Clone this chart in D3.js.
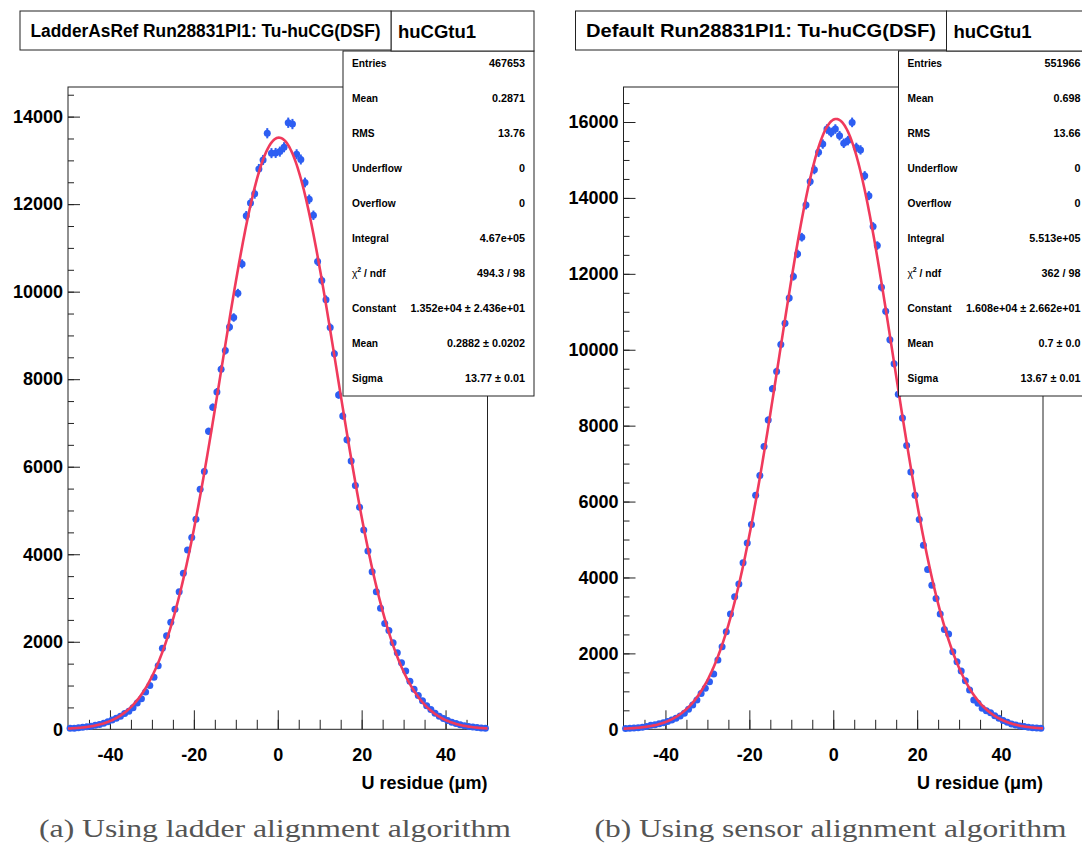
<!DOCTYPE html>
<html>
<head>
<meta charset="utf-8">
<script src="https://cdn.jsdelivr.net/npm/d3@7"></script>
<style>
  body { margin: 0; background: #fff; }
  svg { display: block; }
  .sans { font-family: "Liberation Sans", Arial, Helvetica, sans-serif; font-weight: bold; }
</style>
</head>
<body>
<svg id="chart" width="1082" height="855"></svg>
<script>
// Residual histograms, 1 µm bins between -50 and 50 µm (bin centres)
const binCenters = d3.range(-49.5, 50, 1);

// Counts per bin, ladder alignment (LadderAsRef)
const ladderCounts = [
  22, 26, 35, 44, 58, 72, 90, 112, 138, 170,
  212, 255, 300, 360, 410, 490, 600, 700, 850, 1000,
  1190, 1450, 1850, 2140, 2445, 2745, 3145, 3565, 4095, 4380,
  4800, 5485, 5890, 6810, 7360, 7710, 8230, 8655, 9190, 9410,
  9965, 10635, 11735, 12025, 12235, 12805, 13010, 13620, 13165, 13170,
  13200, 13300, 13860, 13830, 13140, 13020, 12495, 12110, 11745, 10690,
  10255, 9815, 9180, 8580, 7640, 7160, 6615, 6130, 5570, 5075,
  4555, 4075, 3600, 3145, 2765, 2420, 2260, 1980, 1750, 1520,
  1330, 1100, 915, 770, 650, 540, 450, 365, 300, 245,
  200, 160, 130, 104, 82, 66, 52, 41, 32, 26
];

// Counts per bin, sensor alignment (Default)
const sensorCounts = [
  24, 28, 34, 44, 55, 72, 105, 120, 145, 175,
  205, 245, 290, 350, 420, 525, 640, 770, 945, 1080,
  1255, 1455, 1825, 2175, 2570, 3035, 3490, 3825, 4385, 4910,
  5395, 6165, 6690, 7450, 8150, 8975, 9430, 10140, 10700, 11360,
  11930, 12525, 12965, 13815, 14435, 14745, 15200, 15420, 15815, 15725,
  15815, 15640, 15440, 15510, 15990, 15330, 15265, 14585, 14060, 13245,
  12745, 11645, 11015, 10265, 9630, 8825, 8200, 7480, 6780, 6165,
  5525, 4850, 4210, 3795, 3445, 3035, 2630, 2510, 2040, 1780,
  1535, 1280, 1035, 770, 685, 555, 490, 435, 360, 290,
  235, 185, 140, 115, 90, 72, 55, 44, 35, 27
];

// Gaussian fit parameters: constant, mean, sigma
const ladderFit = [1.352e4, 0.2882, 13.77];
const sensorFit = [1.608e4, 0.7, 13.67];

// Titles and statistics box contents
const panelTitles = ["LadderAsRef Run28831Pl1: Tu-huCG(DSF)", "Default Run28831Pl1: Tu-huCG(DSF)"];
const histName = "huCGtu1";
const statLabels = ["Entries", "Mean", "RMS", "Underflow", "Overflow", "Integral", "CHI2", "Constant", "Mean", "Sigma"];
const ladderStats = ["467653", "0.2871", "13.76", "0", "0", "4.67e+05", "494.3 / 98", "1.352e+04 \u00b1 2.436e+01", "0.2882 \u00b1 0.0202", "13.77 \u00b1 0.01"];
const sensorStats = ["551966", "0.698", "13.66", "0", "0", "5.513e+05", "362 / 98", "1.608e+04 \u00b1 2.662e+01", "0.7 \u00b1 0.0", "13.67 \u00b1 0.01"];
const captions = ["(a) Using ladder alignment algorithm", "(b) Using sensor alignment algorithm"];
const xTickLabels = [-40, -20, 0, 20, 40];
const xAxisTitle = "U residue (\u03bcm)";

const svg = d3.select("#chart");
const markerColor = "#2d5ef2";
const fitColor = "#f03a5c";

function drawPanel(dx, counts, fit, title, stats, caption) {
  const g = svg.append("g").attr("transform", `translate(${dx},0)`);
  const left = 68, right = 487.5, top = 87, bottom = 729.3;

  // vertical range like ROOT: (max + error) * 1.05
  const peak = d3.max(counts);
  const yMax = (peak + Math.sqrt(peak)) * 1.05;

  const x = d3.scaleLinear().domain([-50, 50]).range([left, right]);
  const y = d3.scaleLinear().domain([0, yMax]).range([bottom, top]);

  // plot frame
  g.append("rect").attr("x", left).attr("y", top)
    .attr("width", right - left).attr("height", bottom - top)
    .attr("fill", "none").attr("stroke", "#222").attr("stroke-width", 1);

  // y axis: minor ticks every 500, major every 2000
  const yMinor = g.append("g").attr("transform", `translate(${left},0)`)
    .call(d3.axisLeft(y).tickValues(d3.range(0, yMax, 500)).tickSizeInner(-6).tickSizeOuter(0).tickFormat(""));
  const yMajor = g.append("g").attr("transform", `translate(${left},0)`)
    .call(d3.axisLeft(y).tickValues(d3.range(0, yMax, 2000)).tickSizeInner(-12).tickSizeOuter(0)
      .tickPadding(5).tickFormat(d3.format("d")));
  yMajor.selectAll("text").attr("class", "sans").attr("font-size", 18).attr("fill", "#000");

  // x axis: minor ticks every 5, major at labelled values
  const xMinor = g.append("g").attr("transform", `translate(0,${bottom})`)
    .call(d3.axisBottom(x).tickValues(d3.range(-45, 50, 5)).tickSizeInner(-9.5).tickSizeOuter(0).tickFormat(""));
  const xMajor = g.append("g").attr("transform", `translate(0,${bottom})`)
    .call(d3.axisBottom(x).tickValues(xTickLabels).tickSizeInner(-19).tickSizeOuter(0).tickPadding(19)
      .tickFormat(d3.format("d")));
  xMajor.selectAll("text").attr("class", "sans").attr("font-size", 18).attr("fill", "#000")
    .text(d => String(d));

  [yMinor, yMajor, xMinor, xMajor].forEach(a => {
    a.select(".domain").remove();
    a.selectAll("line").attr("stroke", "#222");
  });

  // axis title
  g.append("text").attr("class", "sans").attr("x", right).attr("y", 789)
    .attr("text-anchor", "end").attr("font-size", 18).text(xAxisTitle);

  // data points with Poisson error bars
  const pts = g.append("g");
  const data = binCenters.map((c, i) => ({ c, v: counts[i] }));
  pts.selectAll("line.ey").data(data).join("line").attr("class", "ey")
    .attr("x1", d => x(d.c)).attr("x2", d => x(d.c))
    .attr("y1", d => y(d.v + Math.sqrt(d.v))).attr("y2", d => y(d.v - Math.sqrt(d.v)))
    .attr("stroke", markerColor).attr("stroke-width", 2);
  pts.selectAll("line.ex").data(data).join("line").attr("class", "ex")
    .attr("x1", d => x(d.c - 0.5)).attr("x2", d => x(d.c + 0.5))
    .attr("y1", d => y(d.v)).attr("y2", d => y(d.v))
    .attr("stroke", markerColor).attr("stroke-width", 2);
  pts.selectAll("circle").data(data).join("circle")
    .attr("cx", d => x(d.c)).attr("cy", d => y(d.v)).attr("r", 3.5)
    .attr("fill", markerColor);

  // gaussian fit curve
  const [A, mu, sigma] = fit;
  const xs = d3.range(-50, 50.001, 0.25);
  const line = d3.line().x(d => x(d)).y(d => y(A * Math.exp(-0.5 * ((d - mu) / sigma) ** 2)));
  g.append("path").attr("d", line(xs)).attr("fill", "none")
    .attr("stroke", fitColor).attr("stroke-width", 2.6);

  // statistics box
  const sx0 = 343, sx1 = 534, sTop = 11, sHead = 51, sBottom = 396;
  g.append("rect").attr("x", sx0).attr("y", sHead).attr("width", sx1 - sx0).attr("height", sBottom - sHead)
    .attr("fill", "#fff").attr("stroke", "#222").attr("stroke-width", 1);
  g.append("rect").attr("x", 391).attr("y", sTop).attr("width", sx1 - 391).attr("height", sHead - sTop)
    .attr("fill", "#fff").attr("stroke", "#222").attr("stroke-width", 1);
  g.append("text").attr("class", "sans").attr("x", 398).attr("y", 37.5)
    .attr("font-size", 18.5).text(histName);

  const rowY = i => 63 + i * 35.0;
  statLabels.forEach((lab, i) => {
    const t = g.append("text").attr("class", "sans").attr("x", 352).attr("y", rowY(i) + 3.7)
      .attr("font-size", 10.2);
    if (lab === "CHI2") {
      t.append("tspan").attr("font-weight", "normal").text("\u03c7");
      t.append("tspan").attr("font-size", 7).attr("dy", -4.5).text("2");
      t.append("tspan").attr("dy", 4.5).text(" / ndf");
    } else {
      t.text(lab);
    }
    g.append("text").attr("class", "sans").attr("x", 525).attr("y", rowY(i) + 3.7)
      .attr("text-anchor", "end").attr("font-size", 10.8).text(stats[i]);
  });

  // title box
  g.append("rect").attr("x", 20).attr("y", sTop).attr("width", 371).attr("height", sHead - sTop - 1)
    .attr("fill", "#fff").attr("stroke", "#222").attr("stroke-width", 1);
  g.append("text").attr("class", "sans").attr("x", 205.5).attr("y", 37)
    .attr("text-anchor", "middle").attr("font-size", 17.5).attr("textLength", 350)
    .attr("lengthAdjust", "spacingAndGlyphs").text(title);

  // caption below the panel
  g.append("text").attr("x", 275).attr("y", 837)
    .attr("text-anchor", "middle").attr("font-family", "'Liberation Serif', 'DejaVu Serif', serif")
    .attr("font-size", 25).attr("fill", "#555")
    .attr("textLength", 472).attr("lengthAdjust", "spacingAndGlyphs").text(caption);
}

drawPanel(0, ladderCounts, ladderFit, panelTitles[0], ladderStats, captions[0]);
drawPanel(555.5, sensorCounts, sensorFit, panelTitles[1], sensorStats, captions[1]);
</script>
</body>
</html>
